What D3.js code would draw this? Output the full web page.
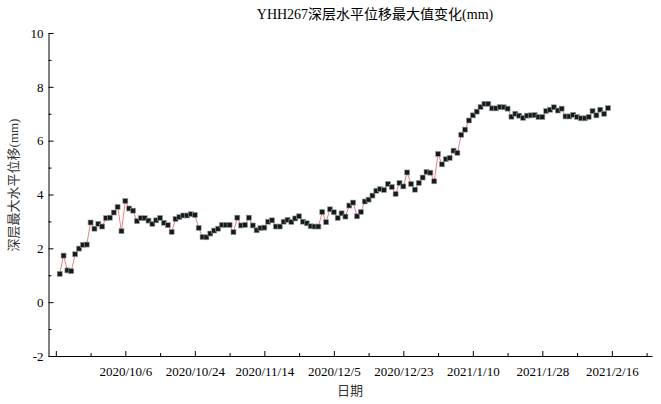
<!DOCTYPE html>
<html>
<head>
<meta charset="utf-8">
<script src="https://cdn.jsdelivr.net/npm/d3@7"></script>
<style>
  html, body { margin: 0; padding: 0; background: #fff; }
  svg { display: block; }
  text { font-family: "Liberation Serif", "Noto Sans CJK SC", serif; }
</style>
</head>
<body>
<svg id="chart" width="661" height="404"></svg>
<script>
// ---- data ----
const title = "YHH267深层水平位移最大值变化(mm)";
const xTitle = "日期";
const yTitle = "深层最大水平位移(mm)";
// row index of each tick (category axis, one row per point) and its label
const xTickIndex = [0, 18, 36, 54, 72, 90, 108, 126, 144];
const xTickLabels = ["", "2020/10/6", "2020/10/24", "2020/11/14", "2020/12/5", "2020/12/23", "2021/1/10", "2021/1/28", "2021/2/16"];
const yTicks = [-2, 0, 2, 4, 6, 8, 10];
// max horizontal displacement (mm), rows 1..143
const values = [
  1.05, 1.73, 1.18, 1.15, 1.78, 1.99, 2.13, 2.14, 2.96, 2.73,
  2.91, 2.81, 3.12, 3.14, 3.33, 3.54, 2.64, 3.76, 3.48, 3.40,
  3.01, 3.12, 3.12, 3.03, 2.91, 3.04, 3.13, 2.95, 2.86, 2.61,
  3.09, 3.16, 3.22, 3.22, 3.27, 3.24, 2.76, 2.42, 2.41, 2.55,
  2.66, 2.73, 2.87, 2.87, 2.87, 2.60, 3.14, 2.85, 2.87, 3.14,
  2.85, 2.67, 2.75, 2.77, 2.99, 3.04, 2.81, 2.81, 2.99, 3.06,
  2.98, 3.11, 3.19, 2.99, 2.93, 2.82, 2.81, 2.81, 3.35, 2.97,
  3.45, 3.34, 3.13, 3.30, 3.18, 3.59, 3.70, 3.19, 3.35, 3.74,
  3.81, 3.96, 4.14, 4.20, 4.17, 4.39, 4.28, 4.02, 4.43, 4.30,
  4.82, 4.39, 4.18, 4.43, 4.63, 4.84, 4.81, 4.49, 5.51, 5.12,
  5.31, 5.36, 5.63, 5.55, 6.22, 6.41, 6.75, 6.94, 7.08, 7.25,
  7.37, 7.37, 7.20, 7.20, 7.25, 7.24, 7.19, 6.89, 7.00, 6.93,
  6.85, 6.93, 6.94, 6.95, 6.88, 6.88, 7.10, 7.15, 7.24, 7.12,
  7.19, 6.90, 6.90, 6.96, 6.88, 6.83, 6.83, 6.88, 7.10, 6.94,
  7.15, 7.00, 7.21
];

// ---- layout ----
const svg = d3.select("#chart");
const x = d3.scaleLinear().domain([-1.9, 154.4]).range([48.5, 652]);
const y = d3.scaleLinear().domain([-2, 10]).range([356, 33]);
const pts = values.map((v, i) => ({ i: i + 1, v }));

// title
svg.append("text")
  .attr("x", 375).attr("y", 19)
  .attr("text-anchor", "middle")
  .attr("fill", "#000")
  .style("font-size", "14px")
  .text(title);

// x axis
const xMinor = d3.range(9, 154, 18);
svg.append("g").attr("transform", `translate(0,${y(-2)})`)
  .call(d3.axisBottom(x).tickValues(xMinor).tickSizeInner(-3).tickSizeOuter(0).tickFormat(""))
  .call(g => g.select(".domain").remove());
const gx = svg.append("g").attr("transform", `translate(0,${y(-2)})`)
  .call(d3.axisBottom(x).tickValues(xTickIndex).tickSizeInner(-5).tickSizeOuter(0)
    .tickPadding(11)
    .tickFormat((d, k) => xTickLabels[k]));
gx.selectAll("text").attr("fill", "#000").style("font-size", "13px").style("font-family", "Liberation Serif");

// y axis
const yMinor = d3.range(-1, 10, 2);
svg.append("g").attr("transform", `translate(${x.range()[0]},0)`)
  .call(d3.axisLeft(y).tickValues(yMinor).tickSizeInner(-3).tickSizeOuter(0).tickFormat(""))
  .call(g => g.select(".domain").remove());
const gy = svg.append("g").attr("transform", `translate(${x.range()[0]},0)`)
  .call(d3.axisLeft(y).tickValues(yTicks).tickSizeInner(-5).tickSizeOuter(0).tickPadding(5)
    .tickFormat(d => String(d)));
gy.selectAll("text").attr("fill", "#000").style("font-size", "13px").style("font-family", "Liberation Serif");

svg.selectAll(".domain, .tick line").attr("stroke", "#000").attr("stroke-width", 1);

// axis titles
svg.append("text")
  .attr("x", 350).attr("y", 395)
  .attr("text-anchor", "middle")
  .attr("fill", "#333")
  .style("font-size", "13px")
  .text(xTitle);
svg.append("text")
  .attr("transform", "translate(18,185) rotate(-90)")
  .attr("text-anchor", "middle")
  .attr("fill", "#333")
  .style("font-size", "13px")
  .text(yTitle);

// line
const line = d3.line().x(d => x(d.i)).y(d => y(d.v));
svg.append("path")
  .datum(pts)
  .attr("d", line)
  .attr("fill", "none")
  .attr("stroke", "#f08080")
  .attr("stroke-width", 1);

// markers
const s = 5;
svg.append("g").selectAll("rect")
  .data(pts)
  .join("rect")
  .attr("x", d => x(d.i) - s / 2)
  .attr("y", d => y(d.v) - s / 2)
  .attr("width", s).attr("height", s)
  .attr("fill", "#151a1c")
  .attr("stroke", "#9aa0a0")
  .attr("stroke-width", 0.6);
</script>
</body>
</html>
